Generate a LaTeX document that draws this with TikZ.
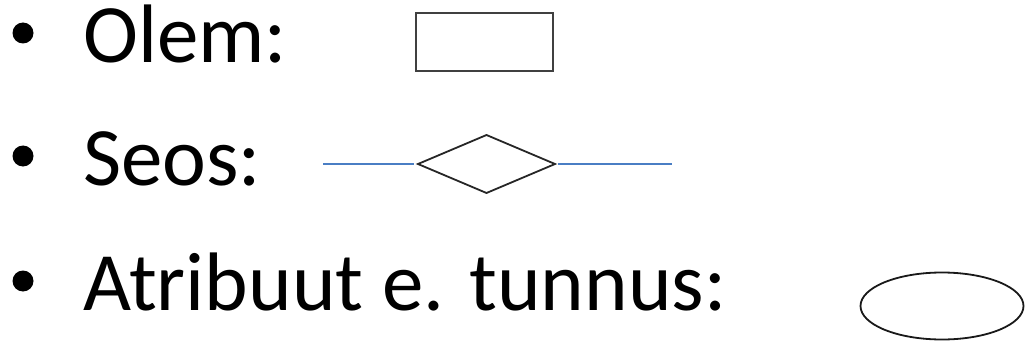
\documentclass[tikz,border=0pt]{standalone}
\usepackage{fontspec}
\setmainfont{Carlito}
\usetikzlibrary{shapes.geometric}
\definecolor{seosblue}{HTML}{4A7EC4}
\tikzset{
  label/.style={anchor=base west, inner sep=0pt, font=\fontsize{83}{100}\selectfont},
  olembox/.style={draw=black!75, line width=2.2pt, minimum width=137pt, minimum height=58pt, inner sep=0pt, outer sep=0pt},
  seosbox/.style={draw=black!85, line width=1.8pt, diamond, aspect=2.36, minimum width=137pt, minimum height=58pt, inner sep=0pt, outer sep=0pt},
  atrbox/.style={draw=black!90, line width=1.8pt, ellipse, minimum width=163pt, minimum height=67pt, inner sep=0pt, outer sep=0pt},
  seosline/.style={draw=seosblue, line width=1.8pt}
}
\begin{document}
\begin{tikzpicture}[x=1pt, y=-1pt]
    \useasboundingbox (0,0) rectangle (1025,342);
    % bullets
    \foreach \y in {33, 156, 281}
    \fill (23,\y) circle (10.5);

    \node[label] (olem) at (83,63) {Olem:};
    \node[label] (seos) at (83,185) {Seos:};
    \node[label] (atr) at (83,310) {Atribuut e. tunnus:};

    \node[olembox] (olemkast) at (484.5,42) {};
    \node[seosbox] (romb) at (486.5,164) {};
    \node[atrbox] (ovaal) at (942,306) {};

    \coordinate (vasak) at (323,164);
    \coordinate (parem) at (672,164);
    \draw[seosline] (vasak) -- ([xshift=-4pt]romb.west);
    \draw[seosline] ([xshift=3pt]romb.east) -- (parem);
\end{tikzpicture}
\end{document}
